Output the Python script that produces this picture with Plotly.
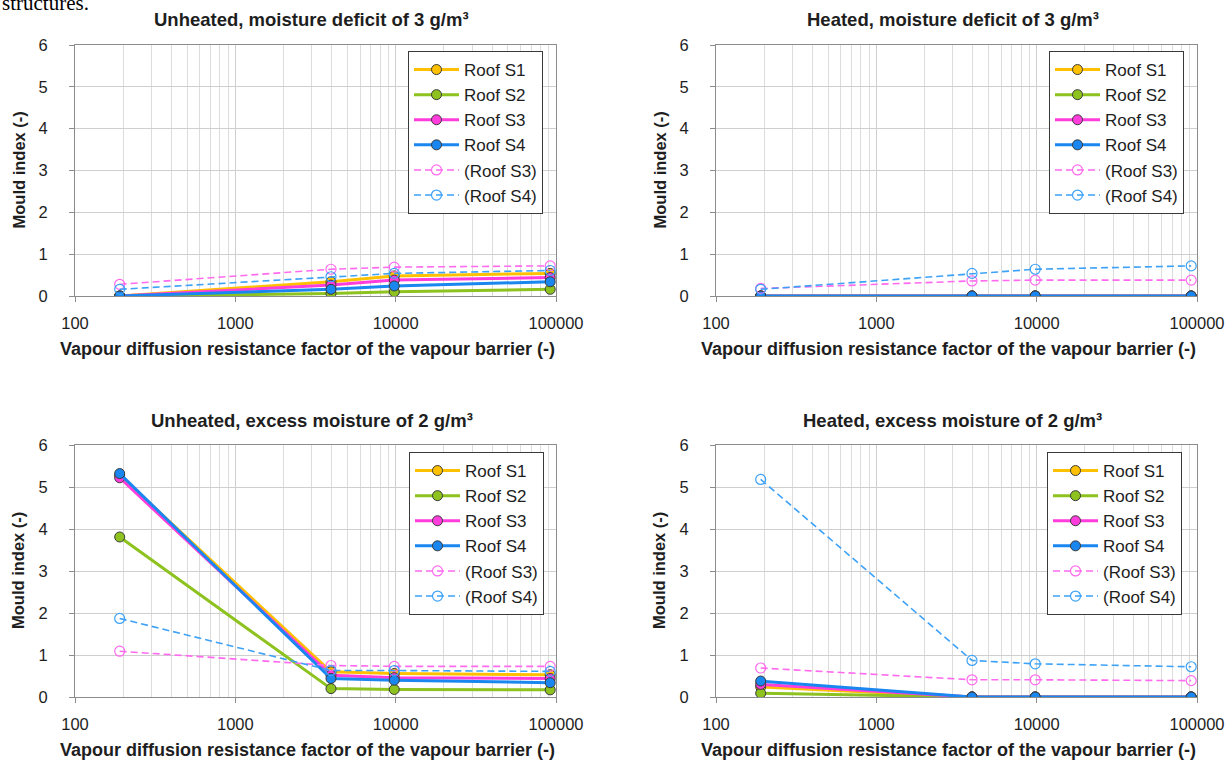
import plotly.graph_objects as go

# ---------------- data ----------------
mu = [190, 3950, 9800, 92000]                    # vapour diffusion resistance factor
x_tickvals = [100, 1000, 10000, 100000]
x_ticktext = ["100", "1000", "10000", "100000"]
y_tickvals = [0, 1, 2, 3, 4, 5, 6]

series_names = ["Roof S1", "Roof S2", "Roof S3", "Roof S4", "(Roof S3)", "(Roof S4)"]

panel_titles = [
    "Unheated, moisture deficit of 3 g/m³",
    "Heated, moisture deficit of 3 g/m³",
    "Unheated, excess moisture of 2 g/m³",
    "Heated, excess moisture of 2 g/m³",
]
x_title = "Vapour diffusion resistance factor of the vapour barrier (-)"
y_title = "Mould index (-)"

p1_s1 = [0.0, 0.34, 0.48, 0.54]
p1_s2 = [0.0, 0.06, 0.10, 0.16]
p1_s3 = [0.0, 0.26, 0.38, 0.44]
p1_s4 = [0.0, 0.16, 0.24, 0.34]
p1_s3b = [0.28, 0.64, 0.69, 0.72]
p1_s4b = [0.16, 0.46, 0.54, 0.61]

p2_s1 = [0.0, 0.0, 0.0, 0.0]
p2_s2 = [0.0, 0.0, 0.0, 0.0]
p2_s3 = [0.0, 0.0, 0.0, 0.0]
p2_s4 = [0.0, 0.0, 0.0, 0.0]
p2_s3b = [0.18, 0.36, 0.38, 0.38]
p2_s4b = [0.16, 0.54, 0.64, 0.72]

p3_s1 = [5.28, 0.60, 0.56, 0.53]
p3_s2 = [3.81, 0.20, 0.18, 0.17]
p3_s3 = [5.22, 0.52, 0.46, 0.44]
p3_s4 = [5.32, 0.44, 0.40, 0.34]
p3_s3b = [1.09, 0.75, 0.73, 0.73]
p3_s4b = [1.87, 0.63, 0.63, 0.61]

p4_s1 = [0.24, 0.0, 0.0, 0.0]
p4_s2 = [0.09, 0.0, 0.0, 0.0]
p4_s3 = [0.30, 0.0, 0.0, 0.0]
p4_s4 = [0.38, 0.0, 0.0, 0.0]
p4_s3b = [0.69, 0.41, 0.41, 0.39]
p4_s4b = [5.18, 0.87, 0.79, 0.72]

panels = [
    [p1_s1, p1_s2, p1_s3, p1_s4, p1_s3b, p1_s4b],
    [p2_s1, p2_s2, p2_s3, p2_s4, p2_s3b, p2_s4b],
    [p3_s1, p3_s2, p3_s3, p3_s4, p3_s3b, p3_s4b],
    [p4_s1, p4_s2, p4_s3, p4_s4, p4_s3b, p4_s4b],
]

# ---------------- styles ----------------
W, H = 1228, 761
FONT = "Liberation Sans, Arial, sans-serif"
TXT = "#1e1e1e"
colors = ["#FFC000", "#8DC21F", "#FF3DDC", "#1A86F0", "#FF6AEE", "#3DA2F7"]
solid = [True, True, True, True, False, False]

areas = [
    (75, 556, 45, 296),
    (716, 1197, 45, 296),
    (75, 556, 445, 697),
    (716, 1197, 445, 697),
]
legend_pos = [(408, 51), (1049, 51), (409, 452), (1047, 452)]

def px(xp):
    return xp / W

def py(yp):
    return 1 - yp / H

fig = go.Figure()

for k, data in enumerate(panels):
    ax = "" if k == 0 else str(k + 1)
    leg = "legend" if k == 0 else f"legend{k + 1}"
    for i, (name, vals) in enumerate(zip(series_names, data)):
        if solid[i]:
            line = dict(color=colors[i], width=3)
            marker = dict(symbol="circle", size=10, color=colors[i],
                          line=dict(color="#3a3a3a", width=1))
        else:
            line = dict(color=colors[i], width=1.6, dash="7px,4px")
            marker = dict(symbol="circle-open", size=10, color=colors[i],
                          line=dict(color=colors[i], width=1.2))
        fig.add_trace(go.Scatter(
            x=mu, y=vals, name=name, mode="lines+markers",
            line=line, marker=marker,
            xaxis="x" + ax, yaxis="y" + ax, legend=leg,
            legendgroup=f"g{k}_{i}",
        ))

axis_common = dict(
    showline=True, linecolor="#8c8c8c", linewidth=1, mirror=True,
    showgrid=True, gridcolor="#cfcfcf", gridwidth=1,
    zeroline=False, ticks="outside", ticklen=5, tickcolor="#8c8c8c",
    tickfont=dict(family=FONT, size=16.5, color=TXT),
    automargin=False,
)

layout = dict(
    template="none",
    width=W, height=H,
    margin=dict(l=0, r=0, t=0, b=0, pad=0, autoexpand=False),
    paper_bgcolor="white", plot_bgcolor="white",
    font=dict(family=FONT, color=TXT),
    annotations=[],
)

for k, (l, r, t, b) in enumerate(areas):
    sfx = "" if k == 0 else str(k + 1)
    layout["xaxis" + sfx] = dict(
        axis_common, type="log", range=[2, 5],
        domain=[px(l), px(r)], anchor="y" + sfx,
        tickvals=x_tickvals, ticktext=x_ticktext, ticklabelstandoff=7,
        minor=dict(showgrid=True, gridcolor="#dcdcdc", dtick="D1", ticks=""),
    )
    layout["yaxis" + sfx] = dict(
        axis_common, range=[0, 6], domain=[py(b), py(t)], anchor="x" + sfx,
        tickvals=y_tickvals, ticklabelstandoff=18,
    )
    lx, ly = legend_pos[k]
    legkey = "legend" if k == 0 else f"legend{k + 1}"
    layout[legkey] = dict(
        x=px(lx), y=py(ly), xanchor="left", yanchor="top",
        xref="paper", yref="paper",
        bgcolor="white", bordercolor="#3a3a3a", borderwidth=1,
        font=dict(family=FONT, size=17, color=TXT),
        tracegroupgap=0, itemwidth=45,
    )
    cx = (l + r) / 2
    layout["annotations"].append(dict(
        text="<b>" + panel_titles[k] + "</b>", x=px(cx - 4), y=py(t - 25),
        xref="paper", yref="paper", showarrow=False,
        font=dict(family=FONT, size=18.5, color=TXT), xanchor="center", yanchor="middle",
    ))
    layout["annotations"].append(dict(
        text="<b>" + x_title + "</b>", x=px(cx - 8), y=py(b + 53),
        xref="paper", yref="paper", showarrow=False,
        font=dict(family=FONT, size=18, color=TXT), xanchor="center", yanchor="middle",
    ))
    layout["annotations"].append(dict(
        text="<b>" + y_title + "</b>", x=px(l - 57), y=py((t + b) / 2),
        xref="paper", yref="paper", showarrow=False, textangle=-90,
        font=dict(family=FONT, size=16.5, color=TXT), xanchor="center", yanchor="middle",
    ))

# cropped document text at the very top of the page
layout["annotations"].append(dict(
    text="structures.", x=0, y=py(17), xref="paper", yref="paper",
    showarrow=False, xanchor="left", yanchor="bottom",
    font=dict(family="Liberation Serif, Times New Roman, serif", size=21, color="#000"),
))

fig.update_layout(layout)
fig.write_html(
    "out.html",
    config={"displayModeBar": False},
    post_script="document.body.style.margin='0';document.body.style.overflow='hidden';",
)
